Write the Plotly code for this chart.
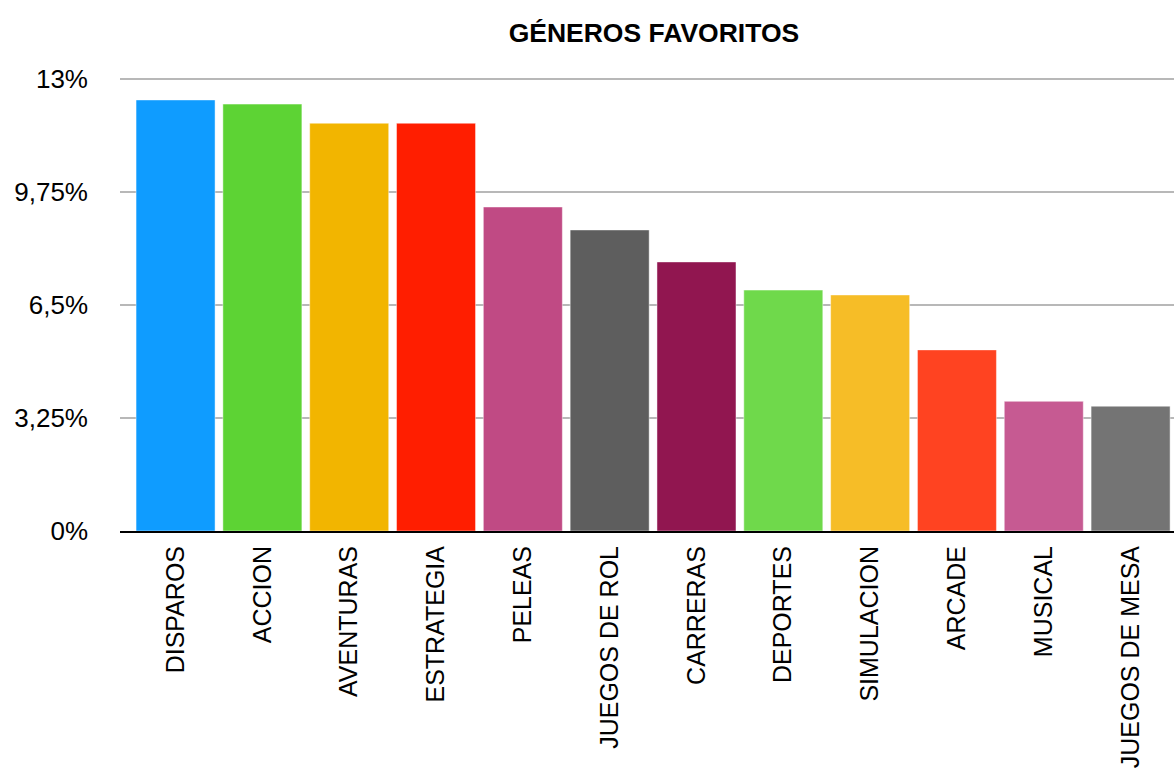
import plotly.graph_objects as go

categories = ["DISPAROS", "ACCION", "AVENTURAS", "ESTRATEGIA", "PELEAS", "JUEGOS DE ROL",
              "CARRERAS", "DEPORTES", "SIMULACION", "ARCADE", "MUSICAL", "JUEGOS DE MESA"]
values = [12.40, 12.28, 11.73, 11.73, 9.32, 8.66, 7.74, 6.93, 6.79, 5.21, 3.73, 3.59]
colors = ["#0f9cff", "#5dd334", "#f2b500", "#ff1e00", "#c04a84", "#5e5e5e",
          "#911650", "#6fd94b", "#f6bd27", "#ff4321", "#c65a92", "#747474"]
y_tickvals = [0, 3.25, 6.5, 9.75, 13]
y_ticktext = ["0%", "3,25%", "6,5%", "9,75%", "13%"]

fig = go.Figure(go.Bar(
    x=categories, y=values,
    marker=dict(color=colors, line=dict(color="rgba(255,255,255,0.45)", width=1)),
))

fig.update_layout(
    width=1174, height=774,
    margin=dict(l=120, r=0, t=77, b=243),
    paper_bgcolor="white", plot_bgcolor="white",
    bargap=0.09,
    showlegend=False,
    font=dict(family="Liberation Sans, Arial, sans-serif", color="black"),
    title=dict(text="<b>GÉNEROS FAVORITOS</b>", x=0.557, xanchor="center",
               y=0.958, yanchor="middle", font=dict(size=26.5, color="black")),
)
fig.update_xaxes(
    range=[-0.64, 11.5], tickangle=-90, tickfont=dict(size=25),
    showline=True, linecolor="black", linewidth=2, showgrid=False,
    ticks="", ticklabelstandoff=3,
)
fig.update_yaxes(
    range=[0, 13.06], tickvals=y_tickvals, ticktext=y_ticktext,
    tickfont=dict(size=26), showgrid=True, gridcolor="#b8b8b8", gridwidth=2,
    zeroline=False, showline=False, ticks="", ticklabelstandoff=31,
)

fig.write_html("out.html")
